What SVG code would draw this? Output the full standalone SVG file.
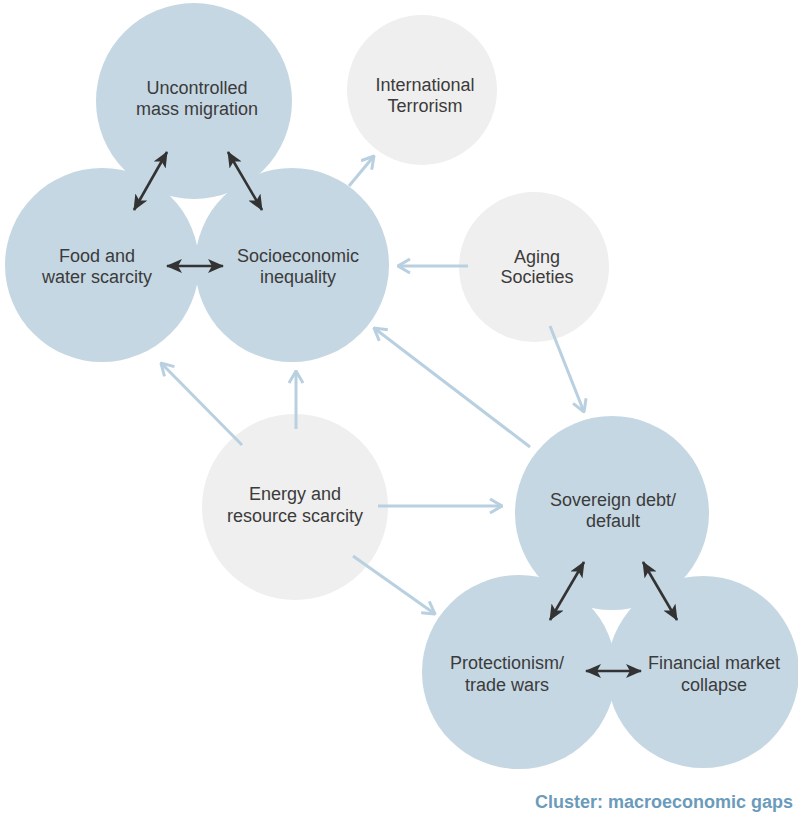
<svg xmlns="http://www.w3.org/2000/svg" width="798" height="814" viewBox="0 0 798 814">
<defs>
<style>
.blue{fill:#c5d7e3}
.gray{fill:#efefef}
.lbl{font-family:"Liberation Sans",Arial,sans-serif;font-size:18px;fill:#3b3b3b;text-anchor:middle}
.light{stroke:#b9d0e0;stroke-width:3;fill:none;marker-end:url(#lh)}
.dark{stroke:#333;stroke-width:2.6;fill:none;marker-start:url(#dh);marker-end:url(#dh)}
.cap{font-family:"Liberation Sans",Arial,sans-serif;font-size:18px;font-weight:bold;fill:#6b9bbb;text-anchor:end}
</style>
<marker id="lh" markerUnits="userSpaceOnUse" viewBox="0 0 14 16" refX="13" refY="8" markerWidth="14" markerHeight="16" orient="auto-start-reverse">
<path d="M1,1 L13,8 L1,15" fill="none" stroke="#b9d0e0" stroke-width="3"/>
</marker>
<marker id="dh" markerUnits="userSpaceOnUse" viewBox="0 0 16 14" refX="15" refY="7" markerWidth="16" markerHeight="14" orient="auto-start-reverse">
<path d="M0,0 L16,7 L0,14 L4,7 Z" fill="#333"/>
</marker>
</defs>
<g id="node-migration"><circle class="blue" cx="194" cy="101" r="98"/><text class="lbl" x="197" y="94">Uncontrolled</text><text class="lbl" x="197" y="115">mass migration</text></g>
<g id="node-food"><circle class="blue" cx="102" cy="265" r="97"/><text class="lbl" x="97" y="262">Food and</text><text class="lbl" x="97" y="283">water scarcity</text></g>
<g id="node-socio"><circle class="blue" cx="292" cy="265" r="97"/><text class="lbl" x="298" y="262">Socioeconomic</text><text class="lbl" x="298" y="283">inequality</text></g>
<g id="node-terrorism"><circle class="gray" cx="422" cy="90" r="75"/><text class="lbl" x="425" y="91">International</text><text class="lbl" x="425" y="112">Terrorism</text></g>
<g id="node-aging"><circle class="gray" cx="534" cy="267" r="75"/><text class="lbl" x="537" y="263">Aging</text><text class="lbl" x="537" y="283">Societies</text></g>
<g id="node-energy"><circle class="gray" cx="295" cy="507" r="93"/><text class="lbl" x="295" y="500">Energy and</text><text class="lbl" x="295" y="522">resource scarcity</text></g>
<g id="node-sovereign"><circle class="blue" cx="612" cy="513" r="97"/><text class="lbl" x="613" y="506">Sovereign debt/</text><text class="lbl" x="613" y="527">default</text></g>
<g id="node-protectionism"><circle class="blue" cx="519" cy="672" r="97"/><text class="lbl" x="507" y="669">Protectionism/</text><text class="lbl" x="507" y="691">trade wars</text></g>
<g id="node-financial"><circle class="blue" cx="703" cy="672" r="96"/><text class="lbl" x="714" y="669">Financial market</text><text class="lbl" x="714" y="691">collapse</text></g>
<g id="connectors">
<line class="dark" x1="167" y1="152" x2="134" y2="210"/>
<line class="dark" x1="228" y1="152" x2="262" y2="210"/>
<line class="dark" x1="167" y1="266" x2="223" y2="266"/>
<line class="dark" x1="584" y1="562" x2="550" y2="620"/>
<line class="dark" x1="643" y1="562" x2="677" y2="620"/>
<line class="dark" x1="586" y1="671" x2="641" y2="671"/>
<line class="light" x1="349" y1="186" x2="374" y2="156"/>
<line class="light" x1="468" y1="266" x2="398" y2="266"/>
<line class="light" x1="550" y1="326" x2="584" y2="412"/>
<line class="light" x1="530" y1="447" x2="374" y2="328"/>
<line class="light" x1="242" y1="445" x2="161" y2="363"/>
<line class="light" x1="296" y1="429" x2="296" y2="371"/>
<line class="light" x1="378" y1="506" x2="502" y2="506"/>
<line class="light" x1="353" y1="556" x2="435" y2="614"/>
</g>
<text class="cap" x="793" y="808">Cluster: macroeconomic gaps</text>
</svg>
